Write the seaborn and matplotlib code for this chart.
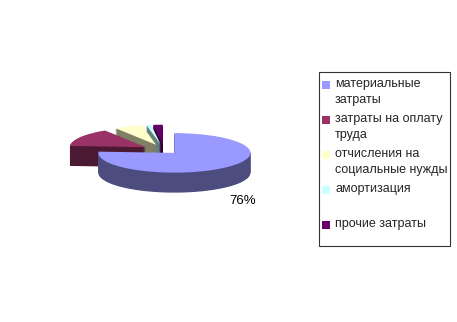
import matplotlib
matplotlib.use('Agg')
import matplotlib.pyplot as plt
import seaborn as sns
from matplotlib.patches import Rectangle, Wedge
from matplotlib.legend_handler import HandlerPatch

categories = ['материальные\nзатраты', 'затраты на оплату\nтруда',
              'отчисления на\nсоциальные нужды', 'амортизация\n ',
              'прочие затраты\n ']
values = [76, 15, 6, 1, 2]
top_colors = ['#9999FF', '#993366', '#FFFFCC', '#CCFFFF', '#660066']
side_colors = ['#4C4C7F', '#4C1933', '#7F7F66', '#667F7F', '#330033']
explode_frac = [0.2, 0.28, 0.28, 0.28, 0.28]
label_linespacing = [1.45, 1.45, 1.45, 1.45, 0.8]

sns.set_theme(style='white')
plt.rcParams['font.family'] = ['Liberation Sans', 'DejaVu Sans']

W, H = 457, 322
fig = plt.figure(figsize=(W / 100, H / 100), dpi=100)
ax = fig.add_axes([0, 0, 1, 1])
k = 0.26          # vertical squash of the tilted pie
R = 76            # radius in pixels
cx, cy_px = 164, 150
cy = (H - cy_px) / k
depth = 20 / k
nlayers = 30
explode = [e * R for e in explode_frac]

for i in range(nlayers, 0, -1):
    off = depth * i / nlayers
    ax.pie(values, colors=side_colors, explode=explode, startangle=90,
           counterclock=False, radius=R, center=(cx, cy - off),
           wedgeprops=dict(linewidth=0))
wedges, _ = ax.pie(values, colors=top_colors, explode=explode, startangle=90,
                   counterclock=False, radius=R, center=(cx, cy),
                   wedgeprops=dict(linewidth=0))

ax.set_aspect('auto')
ax.set_xlim(0, W)
ax.set_ylim(0, H / k)
ax.axis('off')

pct = values[0] / sum(values) * 100
ax.text(cx + 79, (H - 201) / k, f'{pct:.0f}%', fontsize=9.5,
        ha='center', va='center', color='black')

handle_info = {id(w): (lab.count('\n') + 1, ls)
               for w, lab, ls in zip(wedges, categories, label_linespacing)}


def make_sq(legend, orig_handle, xdescent, ydescent, width, height, fontsize):
    n, ls = handle_info[id(orig_handle)]
    s = 0.64 * fontsize
    L = 0.88 * ls * fontsize
    yc = 0.3 * fontsize + (n - 1) * L / 2
    return Rectangle((-xdescent - 0.26 * fontsize, yc - s / 2), s, s)


leg = fig.legend(wedges, categories, loc='upper left',
                 bbox_to_anchor=(319 / W, 1 - 72 / H, 131 / W, 0.0),
                 mode='expand', frameon=True, fancybox=False,
                 edgecolor='black', fontsize=9, handlelength=0.5,
                 handleheight=0.7, handletextpad=0.28, labelspacing=0.55,
                 borderpad=0.5, borderaxespad=0,
                 handler_map={Wedge: HandlerPatch(patch_func=make_sq)})
leg.get_frame().set_linewidth(0.8)
for t, ls in zip(leg.get_texts(), label_linespacing):
    t.set_linespacing(ls)

fig.savefig('out.png', dpi=100, facecolor='white')
